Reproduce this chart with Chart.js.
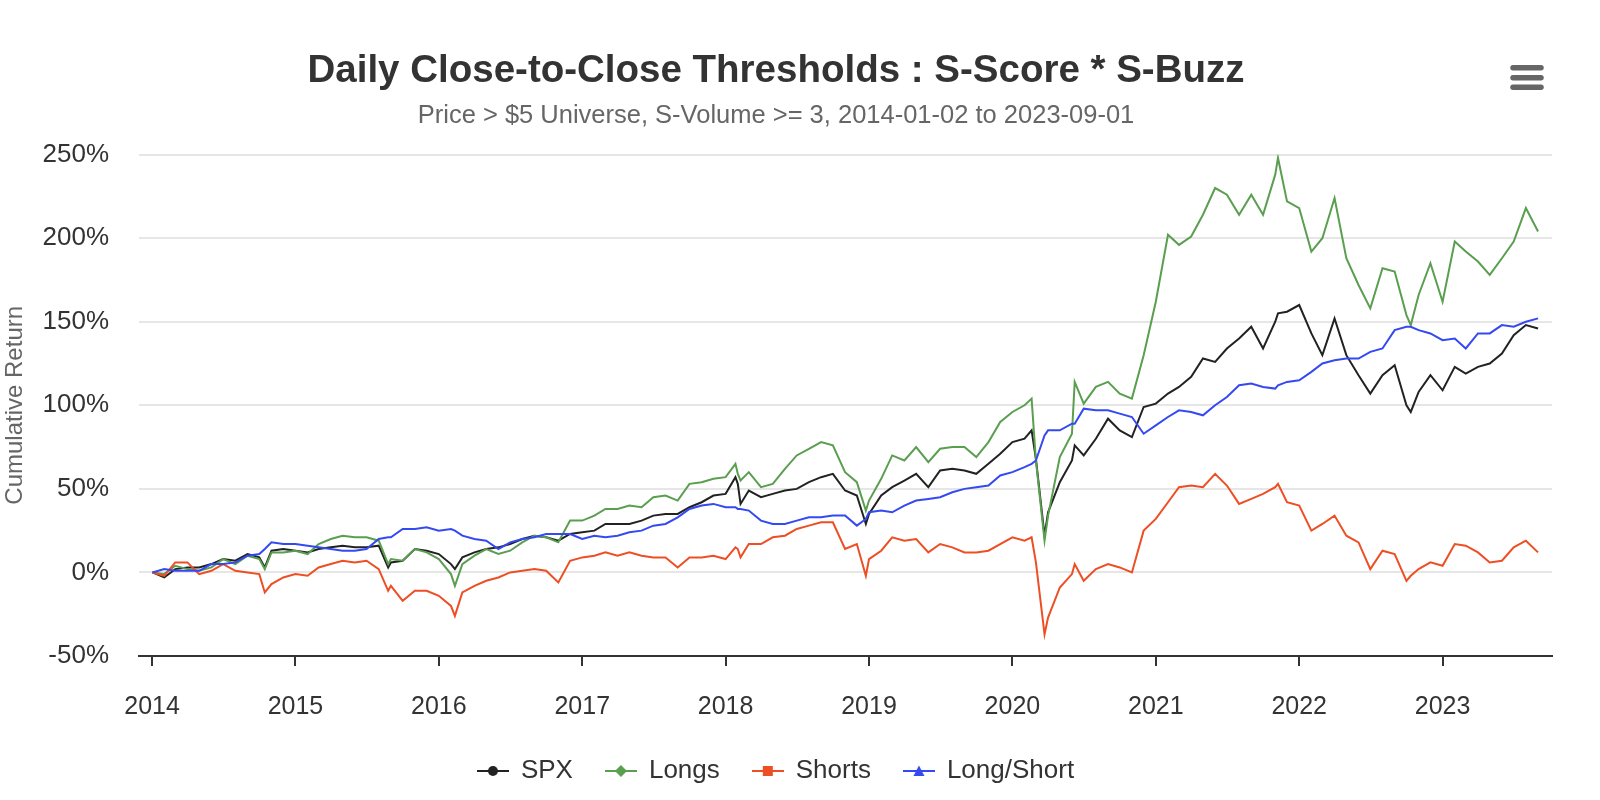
<!DOCTYPE html>
<html>
<head>
<meta charset="utf-8">
<script src="https://cdn.jsdelivr.net/npm/chart.js@4.4.1/dist/chart.umd.min.js"></script>
<style>
    html, body { margin: 0; padding: 0; background: #fff; }
    #returnsChart { display: block; }
</style>
</head>
<body>
<canvas id="returnsChart" width="1600" height="800"></canvas>
<script>
// sample dates (month starts plus a few turning points)
const dates = [
    '2014-01-02', '2014-02-01', '2014-03-01', '2014-04-01', '2014-05-01', '2014-06-01', '2014-07-01', '2014-08-01', '2014-09-01', '2014-10-01', '2014-10-15', '2014-11-01', '2014-12-01',
    '2015-01-01', '2015-02-01', '2015-03-01', '2015-04-01', '2015-05-01', '2015-06-01', '2015-07-01', '2015-08-01', '2015-08-25', '2015-09-01', '2015-10-01', '2015-11-01', '2015-12-01',
    '2016-01-01', '2016-02-01', '2016-02-11', '2016-03-01', '2016-04-01', '2016-05-01', '2016-06-01', '2016-07-01', '2016-08-01', '2016-09-01', '2016-10-01', '2016-11-01', '2016-12-01',
    '2017-01-01', '2017-02-01', '2017-03-01', '2017-04-01', '2017-05-01', '2017-06-01', '2017-07-01', '2017-08-01', '2017-09-01', '2017-10-01', '2017-11-01', '2017-12-01',
    '2018-01-01', '2018-01-26', '2018-02-01', '2018-02-08', '2018-03-01', '2018-04-01', '2018-05-01', '2018-06-01', '2018-07-01', '2018-08-01', '2018-09-01', '2018-10-01', '2018-11-01', '2018-12-01', '2018-12-24',
    '2019-01-01', '2019-02-01', '2019-03-01', '2019-04-01', '2019-05-01', '2019-06-01', '2019-07-01', '2019-08-01', '2019-09-01', '2019-10-01', '2019-11-01', '2019-12-01',
    '2020-01-01', '2020-02-01', '2020-02-19', '2020-03-01', '2020-03-23', '2020-04-01', '2020-05-01', '2020-06-01', '2020-06-08', '2020-07-01', '2020-08-01', '2020-09-01', '2020-10-01', '2020-11-01', '2020-12-01',
    '2021-01-01', '2021-02-01', '2021-03-01', '2021-04-01', '2021-05-01', '2021-06-01', '2021-07-01', '2021-08-01', '2021-09-01', '2021-10-01', '2021-11-01', '2021-11-08', '2021-12-01',
    '2022-01-01', '2022-02-01', '2022-03-01', '2022-04-01', '2022-05-01', '2022-06-01', '2022-07-01', '2022-08-01', '2022-09-01', '2022-10-01', '2022-10-12', '2022-11-01', '2022-12-01',
    '2023-01-01', '2023-02-01', '2023-03-01', '2023-04-01', '2023-05-01', '2023-06-01', '2023-07-01', '2023-08-01', '2023-09-01'
];

// cumulative return, %
const spx = [
    0, -3, 2, 3, 3, 5, 8, 7, 11, 9, 3, 13, 14,
    13, 12, 14, 15, 16, 15, 15, 16, 3, 6, 7, 14, 13,
    11, 5, 2, 9, 12, 14, 15, 17, 20, 22, 21, 19, 23,
    24, 25, 29, 29, 29, 31, 34, 35, 35, 39, 42, 46,
    47, 57, 53, 41, 49, 45, 47, 49, 50, 54, 57, 59, 49, 46, 29,
    35, 46, 51, 55, 59, 51, 61, 62, 61, 59, 65, 71,
    78, 80, 85, 68, 22, 36, 54, 67, 76, 70, 80, 92, 85, 81, 99,
    101, 107, 111, 117, 128, 126, 134, 140, 147, 134, 150, 155, 156,
    160, 143, 130, 152, 130, 118, 107, 118, 124, 100, 96, 108, 118,
    109, 123, 119, 123, 125, 131, 142, 148, 146
];
const longs = [
    0, -1, 4, 2, 1, 3, 8, 5, 10, 8, 2, 12, 12,
    13, 11, 17, 20, 22, 21, 21, 19, 5, 8, 7, 14, 12,
    8, -1, -8, 5, 10, 14, 11, 13, 18, 22, 21, 18, 31,
    31, 34, 38, 38, 40, 39, 45, 46, 43, 53, 54, 56,
    57, 65, 59, 55, 60, 51, 53, 62, 70, 74, 78, 76, 60, 54, 37,
    43, 56, 70, 67, 75, 66, 74, 75, 75, 69, 78, 90,
    96, 100, 104, 67, 19, 34, 69, 83, 114, 101, 111, 114, 107, 104, 130,
    162, 202, 196, 201, 214, 230, 226, 214, 226, 214, 238, 248, 222,
    218, 192, 200, 224, 188, 172, 158, 182, 180, 154, 148, 166, 185,
    162, 198, 192, 186, 178, 188, 198, 218, 204
];
const shorts = [
    0, -2, 6, 6, -1, 1, 5, 1, 0, -1, -12, -7, -3,
    -1, -2, 3, 5, 7, 6, 7, 2, -11, -8, -17, -11, -11,
    -14, -20, -26, -12, -8, -5, -3, 0, 1, 2, 1, -6, 7,
    9, 10, 12, 10, 12, 10, 9, 9, 3, 9, 9, 10,
    8, 15, 14, 9, 17, 17, 21, 22, 26, 28, 30, 30, 14, 17, -2,
    8, 13, 21, 19, 20, 12, 17, 15, 12, 12, 13, 17,
    21, 19, 21, 6, -37, -27, -9, -1, 5, -5, 2, 5, 3, 0, 25,
    32, 42, 51, 52, 51, 59, 52, 41, 44, 47, 51, 53, 42,
    40, 25, 29, 34, 22, 18, 2, 13, 11, -5, -2, 2, 6,
    4, 17, 16, 12, 6, 7, 15, 19, 12
];
const longShort = [
    0, 2, 1, 1, 1, 5, 5, 6, 10, 11, 14, 18, 17,
    17, 16, 15, 14, 13, 13, 14, 20, 21, 21, 26, 26, 27,
    25, 26, 25, 22, 20, 19, 14, 18, 20, 21, 23, 23, 23,
    20, 22, 21, 22, 24, 25, 28, 29, 33, 38, 40, 41,
    39, 39, 38, 38, 37, 31, 29, 29, 31, 33, 33, 34, 34, 28, 32,
    36, 37, 36, 40, 43, 44, 45, 48, 50, 51, 52, 58,
    60, 63, 65, 67, 82, 85, 85, 89, 89, 98, 97, 97, 95, 93, 83,
    88, 93, 97, 96, 94, 100, 105, 112, 113, 111, 110, 112, 114,
    115, 120, 125, 127, 128, 128, 132, 134, 145, 147, 147, 145, 143,
    139, 140, 134, 143, 143, 148, 147, 150, 152
];

const yearTicks = [2014, 2015, 2016, 2017, 2018, 2019, 2020, 2021, 2022, 2023];
const seriesNames = ['SPX', 'Longs', 'Shorts', 'Long/Short'];
const seriesColors = ['#222222', '#5a9e4f', '#ee4e24', '#3449f2'];
const seriesMarkers = ['circle', 'diamond', 'square', 'triangle'];

function toYear(d) {
    const [y, m, day] = d.split('-').map(Number);
    const start = Date.UTC(y, 0, 1);
    return y + (Date.UTC(y, m - 1, day) - start) / (Date.UTC(y + 1, 0, 1) - start);
}

function points(values) {
    return dates.map((d, i) => ({ x: toYear(d), y: values[i] }));
}

// highcharts style legend symbol: short line with the marker on it
function legendIcon(color, shape) {
    const c = document.createElement('canvas');
    c.width = 32;
    c.height = 16;
    const g = c.getContext('2d');
    g.strokeStyle = color;
    g.fillStyle = color;
    g.lineWidth = 2;
    g.beginPath();
    g.moveTo(0, 8);
    g.lineTo(32, 8);
    g.stroke();
    g.beginPath();
    if (shape === 'circle') {
        g.arc(16, 8, 5, 0, Math.PI * 2);
    } else if (shape === 'diamond') {
        g.moveTo(16, 2); g.lineTo(22, 8); g.lineTo(16, 14); g.lineTo(10, 8);
    } else if (shape === 'square') {
        g.rect(11, 3, 10, 10);
    } else {
        g.moveTo(16, 2.5); g.lineTo(21.5, 13); g.lineTo(10.5, 13);
    }
    g.closePath();
    g.fill();
    return c;
}

const legendIcons = seriesColors.map((c, i) => legendIcon(c, seriesMarkers[i]));

const menuIcon = {
    id: 'menuIcon',
    afterDraw(chart) {
        const ctx = chart.ctx;
        ctx.save();
        ctx.strokeStyle = '#666';
        ctx.lineWidth = 5.5;
        ctx.lineCap = 'round';
        [67.7, 77.7, 87.3].forEach(y => {
            ctx.beginPath();
            ctx.moveTo(1513, y);
            ctx.lineTo(1541, y);
            ctx.stroke();
        });
        ctx.restore();
    }
};

Chart.defaults.font.family = "'Liberation Sans', Arial, Helvetica, sans-serif";

new Chart(document.getElementById('returnsChart'), {
    type: 'line',
    data: {
        datasets: [spx, longs, shorts, longShort].map((values, i) => ({
            label: seriesNames[i],
            data: points(values),
            borderColor: seriesColors[i],
            backgroundColor: seriesColors[i],
            borderWidth: 2,
            pointRadius: 0,
            tension: 0,
            fill: false,
            order: 3 - i // later series paint on top
        }))
    },
    options: {
        responsive: false,
        animation: false,
        layout: {
            padding: { left: 0, right: 48, top: 0, bottom: 6 }
        },
        plugins: {
            title: {
                display: true,
                text: 'Daily Close-to-Close Thresholds : S-Score * S-Buzz',
                color: '#333',
                font: { size: 38.5, weight: 'bold' },
                padding: { top: 48, bottom: 0 }
            },
            subtitle: {
                display: true,
                text: 'Price > $5 Universe, S-Volume >= 3, 2014-01-02 to 2023-09-01',
                color: '#666',
                font: { size: 25.5 },
                padding: { top: 6, bottom: 23.8 }
            },
            legend: {
                position: 'bottom',
                labels: {
                    color: '#333',
                    font: { size: 26 },
                    usePointStyle: true,
                    pointStyleWidth: 30,
                    padding: 33,
                    generateLabels: (chart) => Chart.defaults.plugins.legend.labels.generateLabels(chart)
                        .sort((a, b) => a.datasetIndex - b.datasetIndex)
                        .map(item => ({ ...item, pointStyle: legendIcons[item.datasetIndex] }))
                }
            },
            tooltip: { enabled: false }
        },
        scales: {
            x: {
                type: 'linear',
                min: 2013.909,
                max: 2023.763,
                afterBuildTicks: (scale) => {
                    scale.ticks = yearTicks.map(v => ({ value: v }));
                },
                afterFit: (scale) => { scale.height = 69; },
                grid: { drawOnChartArea: false, drawTicks: true, tickLength: 10, color: '#333', lineWidth: 2 },
                border: { color: '#333', width: 2 },
                ticks: {
                    color: '#333',
                    font: { size: 25 },
                    padding: 26,
                    maxRotation: 0,
                    callback: (v) => String(v)
                }
            },
            y: {
                min: -50,
                max: 250,
                afterFit: (scale) => { scale.width = 139; },
                grid: { color: '#e6e6e6', lineWidth: 2, drawTicks: false },
                border: { display: false },
                ticks: {
                    stepSize: 50,
                    color: '#333',
                    font: { size: 26 },
                    padding: 30,
                    callback: (v) => v + '%'
                },
                title: {
                    display: true,
                    text: 'Cumulative Return',
                    color: '#666',
                    font: { size: 24 },
                    padding: { top: 1, bottom: 0 }
                }
            }
        }
    },
    plugins: [menuIcon]
});
</script>
</body>
</html>
